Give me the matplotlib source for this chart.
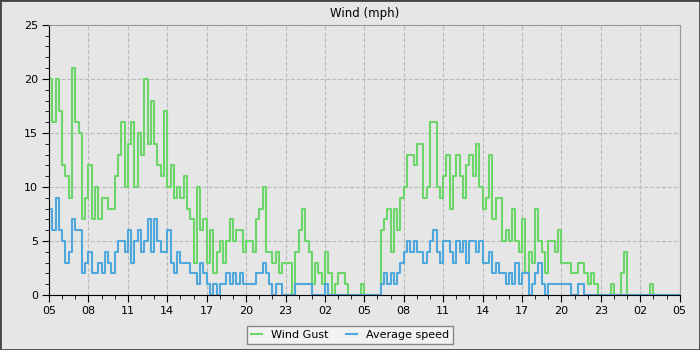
import pandas as pd
import matplotlib
matplotlib.use('Agg')
import matplotlib.pyplot as plt
import matplotlib.dates as mdates
from matplotlib.patches import Rectangle

# 15-minute readings starting 05:00, two days
gust = [20, 16, 20, 17, 12, 11, 9, 21, 16, 15, 7, 9,
        12, 7, 10, 7, 9, 9, 8, 8, 11, 13, 16, 10,
        14, 16, 10, 15, 13, 20, 14, 18, 14, 12, 11, 17,
        10, 12, 9, 10, 9, 11, 8, 7, 3, 10, 6, 7,
        3, 6, 2, 4, 5, 3, 5, 7, 5, 6, 6, 4,
        5, 5, 4, 7, 8, 10, 4, 4, 3, 4, 2, 3,
        3, 3, 0, 4, 6, 8, 5, 4, 1, 3, 2, 1,
        4, 2, 0, 1, 2, 2, 1, 0, 0, 0, 0, 1,
        0, 0, 0, 0, 0, 6, 7, 8, 4, 8, 6, 9,
        10, 13, 13, 12, 14, 14, 9, 10, 16, 16, 10, 9,
        11, 13, 8, 11, 13, 11, 9, 12, 13, 11, 14, 10,
        8, 9, 13, 7, 9, 9, 5, 6, 5, 8, 5, 4,
        7, 2, 4, 3, 8, 5, 4, 2, 5, 5, 4, 6,
        3, 3, 3, 2, 2, 3, 3, 2, 1, 2, 1, 0,
        0, 0, 0, 1, 0, 0, 2, 4, 0, 0, 0, 0,
        0, 0, 0, 1, 0, 0, 0, 0, 0, 0, 0, 0]

avg = [8, 6, 9, 6, 5, 3, 4, 7, 6, 6, 2, 3,
       4, 2, 2, 3, 2, 4, 3, 2, 4, 5, 5, 4,
       6, 3, 5, 6, 4, 5, 7, 4, 7, 5, 4, 4,
       6, 3, 2, 4, 3, 3, 3, 2, 2, 1, 3, 2,
       1, 0, 1, 0, 1, 1, 2, 1, 2, 1, 2, 1,
       1, 1, 1, 2, 2, 3, 2, 1, 0, 1, 1, 0,
       0, 0, 0, 1, 1, 1, 1, 1, 0, 0, 0, 0,
       1, 0, 0, 0, 0, 0, 0, 0, 0, 0, 0, 0,
       0, 0, 0, 0, 0, 1, 2, 1, 2, 1, 2, 3,
       4, 5, 4, 5, 4, 4, 3, 4, 5, 6, 4, 3,
       5, 5, 4, 3, 5, 4, 5, 3, 5, 5, 4, 5,
       3, 3, 4, 2, 3, 2, 2, 1, 2, 1, 3, 1,
       2, 2, 0, 1, 2, 3, 1, 0, 1, 1, 1, 1,
       1, 1, 1, 0, 0, 1, 1, 0, 0, 0, 0, 0,
       0, 0, 0, 0, 0, 0, 0, 0, 0, 0, 0, 0,
       0, 0, 0, 0, 0, 0, 0, 0, 0, 0, 0, 0]

start = pd.Timestamp('2024-05-01 05:00')
times = pd.date_range(start, periods=len(gust) + 1, freq='15min')

bg = '#e6e6e6'
fig = plt.figure(figsize=(7, 3.5), dpi=100, facecolor=bg)
ax = fig.add_axes([0.07, 0.157, 0.901, 0.772])
ax.set_facecolor(bg)

ax.plot(times, gust + gust[-1:], drawstyle='steps-post', color='#6dd66a', lw=1.5, label='Wind Gust')
ax.plot(times, avg + avg[-1:], drawstyle='steps-post', color='#4ea8dc', lw=1.5, label='Average speed')

ax.set_xlim(times[0], times[-1])
ax.set_ylim(0, 25)
ax.set_yticks(range(0, 26, 5))
ax.set_yticks(range(0, 26), minor=True)
ax.xaxis.set_major_locator(mdates.HourLocator(byhour=range(2, 24, 3)))
ax.xaxis.set_minor_locator(mdates.HourLocator())
ax.xaxis.set_major_formatter(mdates.DateFormatter('%H'))
ax.tick_params(which='major', length=5, labelsize=8, pad=3)
ax.tick_params(which='minor', length=3)

ax.grid(True, which='major', color='#bbbbbb', linestyle='--', linewidth=0.8)
for s in ['top', 'right']:
    ax.spines[s].set_color('#999999')
for s in ['left', 'bottom']:
    ax.spines[s].set_color('black')

ax.set_title('Wind (mph)', fontsize=8.5, pad=6)

fig.legend(loc='lower center', bbox_to_anchor=(0.5, 0.0), ncol=2, fontsize=8,
           handlelength=1.0, fancybox=False, edgecolor='#888888',
           facecolor='#f2f2f2', framealpha=1, columnspacing=1.5)

fig.patches.append(Rectangle((0, 0), 1, 1, transform=fig.transFigure, fill=False,
                             edgecolor='#444444', linewidth=2))

fig.savefig('out.png', dpi=100, facecolor=bg)
